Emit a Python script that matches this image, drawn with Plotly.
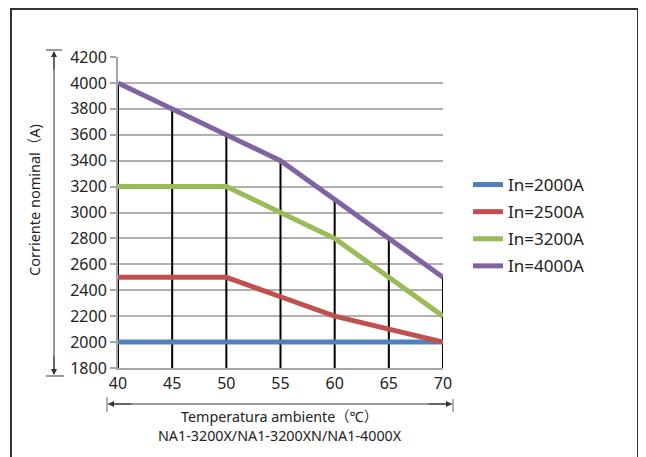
import plotly.graph_objects as go

temps = [40, 45, 50, 55, 60, 65, 70]
in_2000 = [2000, 2000, 2000, 2000, 2000, 2000, 2000]
in_2500 = [2500, 2500, 2500, 2350, 2200, 2100, 2000]
in_3200 = [3200, 3200, 3200, 3000, 2800, 2500, 2200]
in_4000 = [4000, 3800, 3600, 3400, 3100, 2800, 2500]
series_names = ["In=2000A", "In=2500A", "In=3200A", "In=4000A"]
series_colors = ["#4F81BD", "#C0504D", "#9BBB59", "#8064A2"]
y_ticks = [1800, 2000, 2200, 2400, 2600, 2800, 3000, 3200, 3400, 3600, 3800, 4000, 4200]
x_title_lines = ["Temperatura ambiente（℃）", "NA1-3200X/NA1-3200XN/NA1-4000X"]

FONT = "Noto Sans, Noto Sans CJK SC, sans-serif"
W, H = 646, 457
OFF = 8  # page body margin
# plot area in screen pixels
SL, SR, ST, SB = 118, 443, 57, 368
L, R, T, B = SL - OFF, SR - OFF, ST - OFF, SB - OFF


def px(x):
    return (x - SL) / (SR - SL)


def py(y):
    return (SB - y) / (SB - ST)


fig = go.Figure()

# drop lines from the highest series down to the axis floor
all_series = [in_2000, in_2500, in_3200, in_4000]
dx, dy = [], []
for i, t in enumerate(temps):
    top = max(s[i] for s in all_series)
    dx += [t, t, None]
    dy += [y_ticks[0], top, None]
fig.add_trace(go.Scatter(x=dx, y=dy, mode="lines", line=dict(color="black", width=2),
                         showlegend=False, hoverinfo="skip"))

for name, vals, col in zip(series_names, all_series, series_colors):
    fig.add_trace(go.Scatter(x=temps, y=vals, mode="lines", name=name, legendgroup=name,
                             line=dict(color=col, width=5)))

fig.update_layout(
    width=W, height=H,
    margin=dict(l=L, r=W - R, t=T, b=H - B),
    paper_bgcolor="white", plot_bgcolor="white",
    font=dict(family=FONT, size=16, color="#222"),
    showlegend=True,
    legend=dict(x=px(468), y=py(167), xanchor="left", yanchor="top",
                font=dict(size=17, color="#222"), tracegroupgap=2,
                bgcolor="rgba(0,0,0,0)", itemwidth=30),
    xaxis=dict(range=[40, 70], tickvals=temps, showgrid=False, zeroline=False,
               showline=True, linecolor="#a6a6a6", linewidth=2, ticks="",
               tickfont=dict(size=16, color="#222")),
    yaxis=dict(range=[1800, 4200], tickvals=y_ticks, showgrid=True, gridcolor="#b0b0b0",
               gridwidth=2, zeroline=False, showline=True, linecolor="#a6a6a6", linewidth=2,
               ticks="outside", ticklen=6, tickcolor="#a6a6a6", tickwidth=1.5,
               tickfont=dict(size=16, color="#222")),
)

shapes = []
# outer frame
shapes.append(dict(type="rect", xref="paper", yref="paper", x0=px(11), x1=px(638), y0=py(480), y1=py(OFF + 1),
                   line=dict(color="#333", width=2), fillcolor="rgba(0,0,0,0)", layer="below"))
# left vertical dimension line
shapes.append(dict(type="line", xref="paper", yref="paper", x0=px(54), x1=px(54), y0=py(52), y1=py(374),
                   line=dict(color="#333", width=1)))
shapes.append(dict(type="line", xref="paper", yref="paper", x0=px(46), x1=px(62), y0=py(50), y1=py(50),
                   line=dict(color="#333", width=1)))
shapes.append(dict(type="line", xref="paper", yref="paper", x0=px(46), x1=px(64), y0=py(376), y1=py(376),
                   line=dict(color="#333", width=1)))
# bottom horizontal dimension line
shapes.append(dict(type="line", xref="paper", yref="paper", x0=px(108), x1=px(452), y0=py(404), y1=py(404),
                   line=dict(color="#333", width=1)))
shapes.append(dict(type="line", xref="paper", yref="paper", x0=px(107), x1=px(107), y0=py(397), y1=py(412),
                   line=dict(color="#666", width=1)))
shapes.append(dict(type="line", xref="paper", yref="paper", x0=px(453), x1=px(453), y0=py(399), y1=py(412),
                   line=dict(color="#666", width=1)))
fig.update_layout(shapes=shapes)

ann = []
arrow_common = dict(xref="paper", yref="paper", axref="pixel", ayref="pixel", text="",
                    showarrow=True, arrowhead=2, arrowsize=1.2, arrowwidth=1, arrowcolor="#333")
ann.append(dict(x=px(54), y=py(51), ax=0, ay=20, **arrow_common))
ann.append(dict(x=px(54), y=py(375), ax=0, ay=-20, **arrow_common))
ann.append(dict(x=px(108), y=py(404), ax=25, ay=0, **arrow_common))
ann.append(dict(x=px(452), y=py(404), ax=-25, ay=0, **arrow_common))
text_common = dict(xref="paper", yref="paper", showarrow=False, xanchor="center", yanchor="middle")
ann.append(dict(x=px(34), y=py(200), text="Corriente nominal（A)", textangle=-90,
                font=dict(size=14.5, color="#222"), **text_common))
ann.append(dict(x=px(280), y=py(426), text="<br>".join(x_title_lines),
                font=dict(size=14.3, color="#222"), **text_common))
fig.update_layout(annotations=ann)

fig.write_html("out.html")
